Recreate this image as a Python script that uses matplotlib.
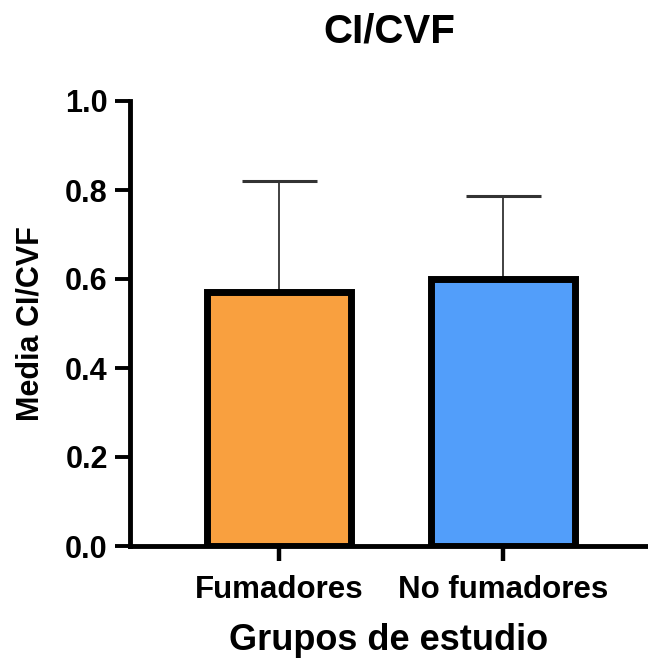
import matplotlib
matplotlib.use("Agg")
import matplotlib.pyplot as plt

categories = ["Fumadores", "No fumadores"]
means = [0.57, 0.60]
upper_err = [0.25, 0.187]
colors = ["#F9A03F", "#529EFA"]
title = "CI/CVF"
ylabel = "Media CI/CVF"
xlabel = "Grupos de estudio"
yticks = [0.0, 0.2, 0.4, 0.6, 0.8, 1.0]

plt.rcParams['font.family'] = ['Liberation Sans', 'DejaVu Sans']

fig = plt.figure(figsize=(6.48, 6.6), dpi=100)
ax = fig.add_axes([130/648, 114/660, 518/648, 445/660])

x = list(range(len(categories)))
ax.errorbar(x, means, yerr=[[0]*len(means), upper_err], fmt='none',
            ecolor='#333333', elinewidth=1.3, capsize=27, capthick=2.2, zorder=1)
ax.bar(x, means, width=0.64, color=colors, edgecolor='black', linewidth=5, zorder=2)

ax.set_xlim(-0.665, 1.647)
ax.set_ylim(0, 1.0)
ax.set_yticks(yticks)
ax.set_yticklabels([f"{v:.1f}" for v in yticks])
ax.set_xticks(x)
ax.set_xticklabels(categories)

for s in ['top', 'right']:
    ax.spines[s].set_visible(False)
for s in ['left', 'bottom']:
    ax.spines[s].set_linewidth(3.5)
    ax.spines[s].set_capstyle('projecting')

ax.tick_params(axis='y', length=11, width=2.8, labelsize=22, pad=5)
ax.tick_params(axis='x', length=11, width=3.2, labelsize=22.5, pad=10)
for lab in ax.get_yticklabels() + ax.get_xticklabels():
    lab.set_fontweight('bold')

ax.set_ylabel(ylabel, fontsize=22, fontweight='bold', labelpad=14)
ax.set_xlabel(xlabel, fontsize=26, fontweight='bold', labelpad=13)
ax.set_title(title, fontsize=29, fontweight='bold', pad=42)

fig.savefig("out.png", dpi=100)
